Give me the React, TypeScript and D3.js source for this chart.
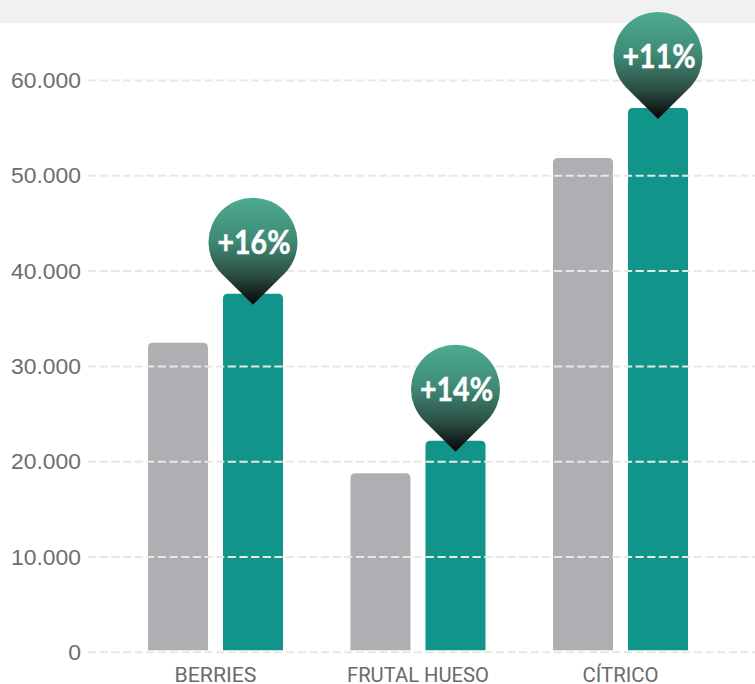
import React from 'react';
import * as d3 from 'd3';

const WIDTH = 755;
const HEIGHT = 684;

const categories = ['BERRIES', 'FRUTAL HUESO', 'CÍTRICO'];
const seriesNames = ['previous', 'current'];
const previousValues = [32480, 18790, 51860];
const currentValues = [37620, 22200, 57120];
const changeLabels = ['+16%', '+14%', '+11%'];
const yTicks = [0, 10000, 20000, 30000, 40000, 50000, 60000];
const tickLabels = ['0', '10.000', '20.000', '30.000', '40.000', '50.000', '60.000'];
const categoryLabelWidths = [82, 142, 76];

const GREY = '#afaeb2';
const TEAL = '#11958b';
const GRID = '#e8e8e2';

// bar with rounded top corners only
const barPath = (x: number, y: number, w: number, bottom: number, r = 5) =>
  `M${x},${bottom}V${y + r}Q${x},${y} ${x + r},${y}H${x + w - r}Q${x + w},${y} ${x + w},${y + r}V${bottom}Z`;

// teardrop marker, tip at (0,0) pointing down
const pinPath = (r: number, tipDrop: number) => {
  const a = Math.PI / 4 - 0.02;
  const cy = -tipDrop;
  const px = r * Math.cos(a);
  const py = cy + r * Math.sin(a);
  return `M0,0L${-px},${py}A${r},${r} 0 1 1 ${px},${py}Z`;
};

export default function App() {
  const y = d3.scaleLinear().domain([0, 60000]).range([652.3, 80.5]);
  const x = d3.scaleBand<string>().domain(categories).range([114.25, 721.75]);
  const inner = d3.scaleBand<string>().domain(seriesNames).range([0, 135]).paddingInner(0.2);
  const barBottom = y(0) - 2;

  const path = pinPath(44.5, 62.5);

  return (
    <svg
      width={WIDTH}
      height={HEIGHT}
      style={{ position: 'absolute', left: 0, top: 0, background: '#fff' }}
    >
      <defs>
        <linearGradient id="pinFill" x1="0" y1="0" x2="0" y2="1">
          <stop offset="0" stopColor="#4dab91" />
          <stop offset="0.4" stopColor="#3f8a75" />
          <stop offset="0.72" stopColor="#2c4f45" />
          <stop offset="1" stopColor="#050505" />
        </linearGradient>
      </defs>

      <rect x={0} y={0} width={WIDTH} height={23} fill="#f1f1f1" />

      {categories.map((c, i) => {
        const gx = (x(c) as number) + (x.bandwidth() - 135) / 2;
        return (
          <g key={c}>
            <path
              d={barPath(gx + (inner('previous') as number), y(previousValues[i]), inner.bandwidth(), barBottom)}
              fill={GREY}
            />
            <path
              d={barPath(gx + (inner('current') as number), y(currentValues[i]), inner.bandwidth(), barBottom)}
              fill={TEAL}
            />
          </g>
        );
      })}

      {yTicks.map((t, i) => (
        <g key={t}>
          <line
            x1={88}
            x2={WIDTH}
            y1={y(t)}
            y2={y(t)}
            stroke={GRID}
            strokeWidth={2}
            strokeDasharray="8.2 3.45"
          />
          <text
            x={81}
            y={y(t) + 7.5}
            textAnchor="end"
            fontFamily="'Liberation Sans', sans-serif"
            fontSize={22}
            textLength={tickLabels[i].length === 1 ? 12.8 : 70}
            lengthAdjust="spacingAndGlyphs"
            fill="#6d6d6d"
          >
            {tickLabels[i]}
          </text>
        </g>
      ))}

      {categories.map((c, i) => (
        <text
          key={c}
          x={(x(c) as number) + x.bandwidth() / 2}
          y={682}
          textAnchor="middle"
          fontFamily="Roboto, sans-serif"
          fontSize={20.5}
          textLength={categoryLabelWidths[i]}
          lengthAdjust="spacingAndGlyphs"
          fill="#6a6a6a"
        >
          {c}
        </text>
      ))}

      {categories.map((c, i) => {
        const gx = (x(c) as number) + (x.bandwidth() - 135) / 2;
        const cx = gx + (inner('current') as number) + inner.bandwidth() / 2;
        const tip = y(currentValues[i]) + 11;
        return (
          <g key={c} transform={`translate(${cx},${tip})`}>
            <path d={path} fill="url(#pinFill)" />
            <text
              x={1}
              y={-51}
              textAnchor="middle"
              fontFamily="Lato, sans-serif"
              fontWeight={700}
              fontSize={32}
              textLength={73}
              lengthAdjust="spacingAndGlyphs"
              fill="#ffffff"
              stroke="#ffffff"
              strokeWidth={0.5}
            >
              {changeLabels[i]}
            </text>
          </g>
        );
      })}
    </svg>
  );
}
